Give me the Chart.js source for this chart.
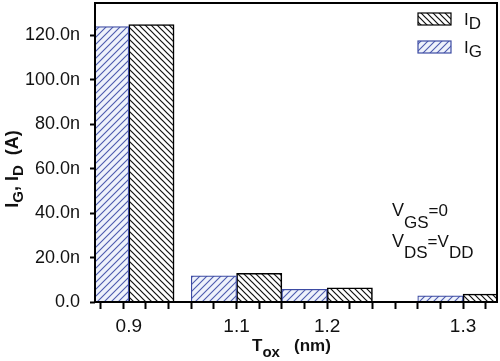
<!DOCTYPE html>
<html>
<head>
<meta charset="utf-8">
<script src="https://cdn.jsdelivr.net/npm/chart.js@4/dist/chart.umd.min.js"></script>
<style>html,body{margin:0;padding:0;background:#fff;}canvas{display:block;}</style>
</head>
<body>
<canvas id="c" width="500" height="361"></canvas>
<script>
// ---- data ----
const tox = ['0.9', '1.1', '1.2', '1.3'];          // category labels (Tox, nm)
const slot = [0.62, 3.0, 5.0, 8.0];                 // where each category sits on the x axis
const iG = [123.9, 11.8, 5.7, 2.8];                 // I_G (nA)
const iD = [124.8, 12.9, 6.4, 3.6];                 // I_D (nA)
const yTicks = [0, 20, 40, 60, 80, 100, 120];       // labelled y ticks (nA)

const FONT = 'Arial, "Liberation Sans", sans-serif';
const BLUE = '#3d4ba3';

function hatch(size, bg, fg, forward, lw) {
  const c = document.createElement('canvas');
  c.width = c.height = size;
  const g = c.getContext('2d');
  g.fillStyle = bg; g.fillRect(0, 0, size, size);
  g.strokeStyle = fg; g.lineWidth = lw;
  g.beginPath();
  if (forward) {
    g.moveTo(0, size); g.lineTo(size, 0);
    g.moveTo(-1, 1); g.lineTo(1, -1);
    g.moveTo(size - 1, size + 1); g.lineTo(size + 1, size - 1);
  } else {
    g.moveTo(0, 0); g.lineTo(size, size);
    g.moveTo(-1, size - 1); g.lineTo(1, size + 1);
    g.moveTo(size - 1, -1); g.lineTo(size + 1, 1);
  }
  g.stroke();
  return g.createPattern(c, 'repeat');
}
const patG = hatch(7, '#eef2fb', '#4b5aae', true, 1.1);
const patD = hatch(6, '#ffffff', '#111111', false, 1.2);

function rich(ctx, x, y, parts, align) {
  let w = 0;
  parts.forEach(p => { ctx.font = (p.bold ? 'bold ' : '') + p.size + 'px ' + FONT; p.w = ctx.measureText(p.t).width; w += p.w; });
  let cx = align === 'center' ? x - w / 2 : x;
  parts.forEach(p => {
    ctx.font = (p.bold ? 'bold ' : '') + p.size + 'px ' + FONT;
    ctx.fillText(p.t, cx, y + (p.dy || 0));
    cx += p.w;
  });
}

function noPad(s) { s.paddingTop = 0; s.paddingBottom = 0; s.paddingLeft = 0; s.paddingRight = 0; }
function slotIndex(v) { return slot.findIndex(s => Math.abs(s - v) < 1e-9); }

const decor = {
  id: 'decor',
  afterDraw(chart) {
    const ctx = chart.ctx, a = chart.chartArea;
    ctx.save();
    // frame
    ctx.strokeStyle = '#000'; ctx.lineWidth = 2;
    ctx.strokeRect(a.left, a.top, a.right - a.left, a.bottom - a.top);
    ctx.fillStyle = '#111';
    ctx.textBaseline = 'alphabetic';
    // legend
    const ds = chart.data.datasets;
    const items = [ds[1], ds[0]];
    const subs = ['D', 'G'];
    items.forEach((d, i) => {
      const y0 = 13 + i * 28;
      ctx.fillStyle = d.backgroundColor;
      ctx.fillRect(418, y0, 33, 12);
      ctx.strokeStyle = d.borderColor; ctx.lineWidth = 1.2;
      ctx.strokeRect(418, y0, 33, 12);
      ctx.fillStyle = '#111';
      rich(ctx, 464, y0 + 12, [{t: 'I', size: 17}, {t: subs[i], size: 17, dy: 4}]);
    });
    // annotation
    rich(ctx, 392, 216, [{t: 'V', size: 18}, {t: 'GS', size: 17, dy: 12}, {t: '=0', size: 17}]);
    rich(ctx, 392, 247, [{t: 'V', size: 18}, {t: 'DS', size: 17, dy: 11}, {t: '=V', size: 17}, {t: 'DD', size: 17, dy: 11}]);
    // x title
    rich(ctx, 252, 351, [{t: 'T', size: 17, bold: true}, {t: 'ox', size: 15, bold: true, dy: 6}, {t: '   (nm)', size: 17, bold: true}]);
    // y title
    ctx.translate(18, 169);
    ctx.rotate(-Math.PI / 2);
    rich(ctx, 0, 0, [{t: 'I', size: 18, bold: true}, {t: 'G', size: 15, bold: true, dy: 5}, {t: ', I', size: 18, bold: true}, {t: 'D', size: 15, bold: true, dy: 5}, {t: '  (A)', size: 18, bold: true}], 'center');
    ctx.restore();
  }
};

new Chart(document.getElementById('c'), {
  type: 'bar',
  data: {
    datasets: [
      { label: 'I_G', data: slot.map((s, i) => ({x: s, y: iG[i]})), backgroundColor: patG, borderColor: BLUE, borderWidth: 1.2, xAxisID: 'x', yAxisID: 'y' },
      { label: 'I_D', data: slot.map((s, i) => ({x: s, y: iD[i]})), backgroundColor: patD, borderColor: '#000', borderWidth: 1.6, xAxisID: 'x', yAxisID: 'y' }
    ]
  },
  options: {
    responsive: false,
    animation: false,
    layout: { padding: { left: 0, right: 3, top: 3, bottom: 0 } },
    datasets: { bar: { barThickness: 45.3, barPercentage: 1, categoryPercentage: 1 } },
    plugins: { legend: { display: false }, tooltip: { enabled: false } },
    scales: {
      x: {
        type: 'linear', position: 'bottom', offset: false,
        min: -0.126, max: 8.75,
        afterBuildTicks(s) {
          const extra = slot.filter(v => !s.ticks.some(t => Math.abs(t.value - v) < 1e-9)).map(v => ({value: v, labelOnly: true}));
          s.ticks = s.ticks.concat(extra).sort((p, q) => p.value - q.value);
        },
        afterFit(s) { s.height = 59; noPad(s); },
        border: { display: false },
        grid: {
          display: true, drawOnChartArea: false, drawTicks: true, tickLength: 7, tickWidth: 2, offset: false,
          tickColor: (c) => (c.tick && c.tick.labelOnly) ? 'rgba(0,0,0,0)' : '#000'
        },
        ticks: {
          stepSize: 0.5, includeBounds: false,
          autoSkip: false, maxRotation: 0, minRotation: 0, padding: 6, color: '#111',
          font: { family: FONT, size: 19 },
          callback(v) { const i = slotIndex(v); return i >= 0 ? tox[i] : ''; }
        }
      },
      y: {
        type: 'linear', position: 'left',
        min: 0, max: 134.5,
        afterFit(s) { s.width = 95; noPad(s); },
        border: { display: false },
        grid: { display: true, drawOnChartArea: false, drawTicks: true, tickLength: 5, tickWidth: 2, tickColor: '#000' },
        ticks: {
          stepSize: 10, includeBounds: false, padding: 10, color: '#111',
          font: { family: FONT, size: 18 },
          callback(v) { if (!yTicks.includes(v)) return ''; return v === 0 ? '0.0' : v.toFixed(1) + 'n'; }
        }
      }
    }
  },
  plugins: [decor]
});
</script>
</body>
</html>
